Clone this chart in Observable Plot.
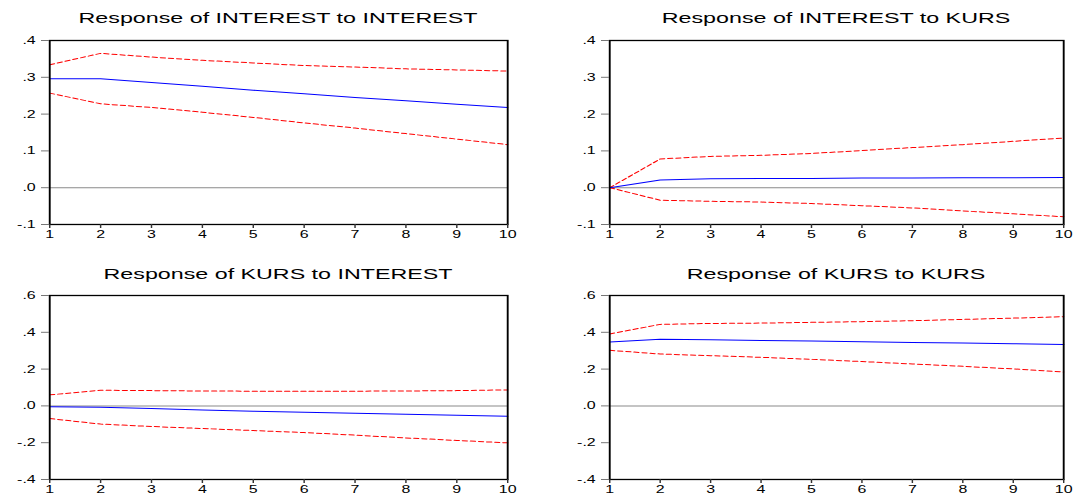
<!DOCTYPE html>
<html>
<head>
<meta charset="utf-8">
<script src="https://cdn.jsdelivr.net/npm/d3@7"></script>
<script src="https://cdn.jsdelivr.net/npm/@observablehq/plot@0.6"></script>
<style>
  html, body { margin: 0; padding: 0; background: #fff; }
  #root { position: relative; width: 1082px; height: 495px; overflow: hidden; background: #fff;
          font-family: "Liberation Sans", Arial, sans-serif; }
  .panel { position: absolute; transform-origin: 0 0; }
  .panel svg { display: block; max-width: none; }
  .title { position: absolute; white-space: nowrap; font-size: 15.5px; line-height: 16px; color: #000;
           font-family: "Liberation Sans", Arial, sans-serif; }
</style>
</head>
<body>
<div id="root"></div>
<script>
// ---- data ----
const steps = [1, 2, 3, 4, 5, 6, 7, 8, 9, 10];

const titles = [
  "Response of INTEREST to INTEREST",
  "Response of INTEREST to KURS",
  "Response of KURS to INTEREST",
  "Response of KURS to KURS"
];

// Response of INTEREST to INTEREST
const intIntResp  = [0.296, 0.296, 0.286, 0.276, 0.265, 0.255, 0.245, 0.236, 0.227, 0.218];
const intIntUpper = [0.334, 0.365, 0.355, 0.346, 0.339, 0.332, 0.328, 0.323, 0.320, 0.317];
const intIntLower = [0.257, 0.228, 0.218, 0.205, 0.191, 0.176, 0.162, 0.147, 0.132, 0.117];

// Response of INTEREST to KURS
const intKursResp  = [0.000, 0.021, 0.024, 0.025, 0.025, 0.026, 0.026, 0.027, 0.027, 0.028];
const intKursUpper = [0.000, 0.078, 0.085, 0.088, 0.093, 0.101, 0.109, 0.117, 0.126, 0.135];
const intKursLower = [0.000, -0.034, -0.037, -0.039, -0.043, -0.049, -0.055, -0.063, -0.071, -0.079];

// Response of KURS to INTEREST
const kursIntResp  = [-0.004, -0.007, -0.014, -0.022, -0.029, -0.034, -0.040, -0.045, -0.051, -0.056];
const kursIntUpper = [0.060, 0.085, 0.083, 0.081, 0.080, 0.080, 0.080, 0.081, 0.083, 0.087];
const kursIntLower = [-0.069, -0.099, -0.112, -0.123, -0.134, -0.145, -0.159, -0.174, -0.188, -0.201];

// Response of KURS to KURS
const kursKursResp  = [0.347, 0.362, 0.360, 0.356, 0.353, 0.349, 0.345, 0.342, 0.338, 0.333];
const kursKursUpper = [0.391, 0.443, 0.448, 0.450, 0.454, 0.458, 0.463, 0.470, 0.477, 0.485];
const kursKursLower = [0.302, 0.282, 0.273, 0.264, 0.253, 0.241, 0.228, 0.215, 0.201, 0.184];

const topTicks = [-0.1, 0, 0.1, 0.2, 0.3, 0.4];
const bottomTicks = [-0.4, -0.2, 0, 0.2, 0.4, 0.6];

// ---- layout ----
const S = 1.45;        // horizontal stretch of the original rendering
const TS = 1.5;        // title stretch
const fmt = d => {
  const s = d3.format(".1f")(Math.abs(d)).replace(/^0/, "");
  return (d < 0 ? "-" : "") + s;
};

const panels = [
  { title: titles[0], resp: intIntResp, upper: intIntUpper, lower: intIntLower,
    yDomain: [-0.1, 0.4], yTicks: topTicks,
    left: 0, top: 30, w: 535, h: 215, fL: 49, fR: 507, fT: 40, fB: 224, titleY: 17.3 },
  { title: titles[1], resp: intKursResp, upper: intKursUpper, lower: intKursLower,
    yDomain: [-0.1, 0.4], yTicks: topTicks,
    left: 555, top: 30, w: 527, h: 215, fL: 609, fR: 1063, fT: 40, fB: 224, titleY: 17.3 },
  { title: titles[2], resp: kursIntResp, upper: kursIntUpper, lower: kursIntLower,
    yDomain: [-0.4, 0.6], yTicks: bottomTicks,
    left: 0, top: 285, w: 535, h: 210, fL: 49, fR: 507, fT: 295, fB: 479, titleY: 274 },
  { title: titles[3], resp: kursKursResp, upper: kursKursUpper, lower: kursKursLower,
    yDomain: [-0.4, 0.6], yTicks: bottomTicks,
    left: 555, top: 285, w: 527, h: 210, fL: 609, fR: 1063, fT: 295, fB: 479, titleY: 274 }
];

const root = document.getElementById("root");

for (const p of panels) {
  const rows = steps.map((s, i) => ({ step: s, resp: p.resp[i], upper: p.upper[i], lower: p.lower[i] }));
  const plotW = p.w / S;
  const chart = Plot.plot({
    width: plotW,
    height: p.h,
    marginLeft: (p.fL - p.left) / S,
    marginRight: (p.left + p.w - p.fR) / S,
    marginTop: p.fT - p.top,
    marginBottom: p.top + p.h - p.fB,
    style: { fontFamily: "'Liberation Sans', Arial, sans-serif", fontSize: "11px", background: "transparent", overflow: "visible" },
    x: { domain: [1, 10], label: null },
    y: { domain: p.yDomain, label: null },
    marks: [
      Plot.ruleY([0], { stroke: "#8a8a8a", strokeWidth: 1 }),
      Plot.line(rows, { x: "step", y: "upper", stroke: "#ff0000", strokeWidth: 1, strokeDasharray: "3.4,2.2" }),
      Plot.line(rows, { x: "step", y: "lower", stroke: "#ff0000", strokeWidth: 1, strokeDasharray: "3.4,2.2" }),
      Plot.line(rows, { x: "step", y: "resp", stroke: "#0000ff", strokeWidth: 1 }),
      Plot.frame({ stroke: "#000", strokeWidth: 1.3 }),
      Plot.axisX({ ticks: steps, tickSize: 4, tickPadding: 2, tickFormat: d => String(d), label: null, stroke: "#333" }),
      Plot.axisY({ ticks: p.yTicks, tickSize: 8 / S, tickPadding: 6 / S, tickFormat: fmt, label: null, stroke: "#777" })
    ]
  });
  const div = document.createElement("div");
  div.className = "panel";
  div.style.left = p.left + "px";
  div.style.top = p.top + "px";
  div.style.width = plotW + "px";
  div.style.transform = `scaleX(${S})`;
  div.appendChild(chart);
  root.appendChild(div);

  const t = document.createElement("div");
  t.className = "title";
  t.textContent = p.title;
  t.style.left = ((p.fL + p.fR) / 2) + "px";
  t.style.top = (p.titleY - 7.8) + "px";
  t.style.transformOrigin = "50% 50%";
  t.style.transform = `translateX(-50%) scaleX(${TS})`;
  root.appendChild(t);
}
</script>
</body>
</html>
